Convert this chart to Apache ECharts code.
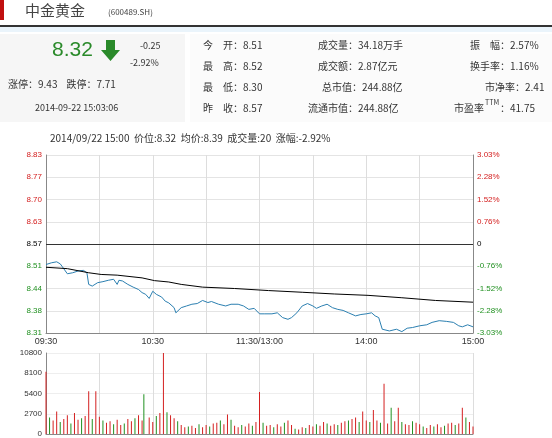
<!DOCTYPE html><html><head><meta charset="utf-8"><script src="https://cdn.jsdelivr.net/npm/echarts@6/dist/echarts.min.js"></script>
<style>body{margin:0}#c{width:552px;height:438px}</style></head><body><div id="c"></div><script>
var priceTicks=['8.31','8.38','8.44','8.51','8.57','8.63','8.70','8.77','8.83'];
var pctTicks=['-3.03%','-2.28%','-1.52%','-0.76%','0','0.76%','1.52%','2.28%','3.03%'];
var timeLabels={0:'09:30',60:'10:30',120:'11:30/13:00',180:'14:00',240:'15:00'};
var priceMin=[0,3,6,8,9,12,15,18,21,23,24,26,29,32,35,38,40,41,43,46,49,52,54,56,58,60,62,65,67,69,72,73,76,79,82,85,88,91,93,97,101,104,108,111,114,117,120,123,127,130,133,136,138,141,144,147,150,152,155,158,161,164,167,170,174,177,180,183,185,187,189,193,197,200,203,206,210,214,217,221,225,229,232,234,237,240];
var priceVal=[8.51,8.515,8.518,8.512,8.505,8.483,8.486,8.491,8.493,8.486,8.452,8.447,8.457,8.46,8.464,8.467,8.452,8.464,8.462,8.452,8.444,8.437,8.428,8.423,8.411,8.432,8.423,8.415,8.403,8.398,8.384,8.369,8.384,8.389,8.394,8.396,8.405,8.399,8.402,8.394,8.389,8.394,8.394,8.389,8.379,8.382,8.366,8.366,8.366,8.369,8.355,8.35,8.355,8.369,8.389,8.396,8.389,8.382,8.389,8.394,8.384,8.379,8.376,8.369,8.36,8.364,8.366,8.369,8.36,8.355,8.321,8.316,8.321,8.314,8.324,8.326,8.331,8.334,8.341,8.346,8.344,8.341,8.331,8.328,8.334,8.328];
var avgMin=[0,12,24,31,40,54,61,69,76,88,106,125,144,162,181,200,219,240];
var avgVal=[8.502,8.498,8.486,8.481,8.479,8.471,8.463,8.459,8.452,8.444,8.44,8.434,8.429,8.424,8.42,8.413,8.405,8.4];
var volMin=[0,2,4,6,8,10,12,14,16,18,20,22,24,26,28,30,32,34,36,38,40,42,44,46,48,50,52,54,55,58,60,62,64,66,68,70,72,74,76,78,80,82,84,86,88,90,92,94,96,98,100,102,104,106,108,110,112,114,116,118,120,122,124,126,128,130,132,134,136,138,140,142,144,146,148,150,152,154,156,158,160,162,164,166,168,170,172,174,176,178,180,182,184,186,188,190,192,194,196,198,200,202,204,206,208,210,212,214,216,218,220,222,224,226,228,230,232,234,236,238,240];
var volVal=[8300,2200,1800,3000,1600,2000,2500,1400,2800,1900,2100,2400,5700,2000,5700,2300,1800,1500,1700,1300,1900,1200,1400,2000,1700,2100,2500,1800,5300,2200,1600,2400,2800,10800,2900,2500,2100,1700,1200,900,1000,1100,800,1300,900,1200,1000,1400,1500,1800,1300,2600,1900,1100,900,1200,1000,1400,1100,1600,5600,1500,1100,1200,900,1300,1000,1500,1800,1200,700,600,900,800,1200,1000,1300,1100,1600,1400,1100,1300,1200,1500,1700,1800,2000,2200,1600,3000,1800,1600,3200,1800,1500,6700,1400,3500,1700,3500,1600,1300,1200,1700,1500,1300,1000,800,1200,1000,1300,900,1100,1400,1500,1200,1400,3500,2200,1600,1000];
var up='#d42020',dn='#209020';
var pd=priceMin.map(function(m,i){return[m,priceVal[i]]});
var ad=avgMin.map(function(m,i){return[m,avgVal[i]]});
var vd=volMin.map(function(m,i){return{value:[m,volVal[i]],itemStyle:{color:(i%3===1)?dn:up}}});
function lbl(v,arr){var i=Math.round((v-8.31)/0.065);return arr[i]||''}
function col(v){return v>8.575?up:(v<8.565?dn:'#000')}
var c=echarts.init(document.getElementById('c'));
var F='SimSun,"Noto Sans CJK SC",sans-serif';
var tx=function(x,y,t,s,st){return Object.assign({type:'text',left:x,top:y,style:Object.assign({text:t,fontSize:s||10,fill:'#333',fontFamily:F},st||{})})};
c.setOption({animation:false,backgroundColor:'#fff',
graphic:[
{type:'rect',shape:{x:0,y:0,width:4,height:20},style:{fill:'#c01010'}},
{type:'rect',shape:{x:0,y:25,width:552,height:2},style:{fill:'#333'}},
{type:'rect',shape:{x:0,y:27,width:552,height:5},style:{fill:'#eaf4fb'}},
{type:'rect',shape:{x:0,y:34,width:185,height:88},style:{fill:'#f6f6f6'}},
{type:'rect',shape:{x:190,y:34,width:362,height:88},style:{fill:'#fbfbfb'}},
tx(25,3,'中金黄金',15,{fill:'#444'}),
tx(108,8,'(600489.SH)',8,{fill:'#444'}),
tx(52,40,'8.32',21,{fill:'#2a8a2a',fontFamily:'Arial'}),
{type:'polygon',shape:{points:[[106,40],[115,40],[115,50],[120,50],[110.5,61],[101,50],[106,50]]},style:{fill:'#2a8a2a'}},
tx(140,41,'-0.25',9),tx(130,58,'-2.92%',9),
tx(8,79,'涨停：9.43    跌停：7.71',10),
tx(35,103,'2014-09-22 15:03:06',9),
tx(203,40,'今　开：8.51',10),tx(203,61,'最　高：8.52',10),tx(203,82,'最　低：8.30',10),tx(203,103,'昨　收：8.57',10),
tx(318,40,'成交量：34.18万手',10),tx(318,61,'成交额：2.87亿元',10),tx(322,82,'总市值：244.88亿',10),tx(308,103,'流通市值：244.88亿',10),
tx(470,40,'振　幅：2.57%',10),tx(470,61,'换手率：1.16%',10),tx(485,82,'市净率：2.41',10),
tx(454,103,'市盈率',10),tx(485,99,'TTM',7),tx(500,103,'：41.75',10),
tx(50,133,'2014/09/22 15:00  价位:8.32  均价:8.39  成交量:20  涨幅:-2.92%',10)
],
grid:[{left:46,right:79,top:155,height:178},{left:46,right:79,top:353,height:84}],
xAxis:[{type:'value',gridIndex:0,min:0,max:240,interval:30,axisLine:{lineStyle:{color:'#888'}},axisTick:{show:false},
axisLabel:{fontSize:9,color:'#333',margin:4,formatter:function(v){return timeLabels[v]||''}},splitLine:{show:true,lineStyle:{color:'#ddd'}}},
{type:'value',gridIndex:1,min:0,max:240,interval:30,axisLine:{lineStyle:{color:'#888'}},axisTick:{show:false},axisLabel:{show:false},splitLine:{show:true,lineStyle:{color:'#ddd'}}}],
yAxis:[{type:'value',gridIndex:0,min:8.31,max:8.83,interval:0.065,axisLine:{show:true,lineStyle:{color:'#888'}},axisTick:{show:false},
axisLabel:{fontSize:8,margin:4,formatter:function(v){return lbl(v,priceTicks)},color:function(v){return col(v)}},splitLine:{lineStyle:{color:'#e4e4e4'}}},
{type:'value',gridIndex:0,min:8.31,max:8.83,interval:0.065,position:'right',axisLine:{show:true,lineStyle:{color:'#888'}},axisTick:{show:false},
axisLabel:{fontSize:8,margin:4,formatter:function(v){return lbl(v,pctTicks)},color:function(v){return col(v)}},splitLine:{show:false}},
{type:'value',gridIndex:1,min:0,max:10800,interval:2700,axisLine:{show:true,lineStyle:{color:'#888'}},axisTick:{show:false},
axisLabel:{fontSize:8,margin:4,color:'#333',formatter:function(v){return String(v)}},splitLine:{lineStyle:{color:'#eee'}}}],
series:[
{type:'line',xAxisIndex:0,yAxisIndex:0,data:pd,symbol:'none',lineStyle:{color:'#2b7fb0',width:1},
markLine:{symbol:'none',silent:true,label:{show:false},lineStyle:{color:'#333',type:'solid',width:1},data:[{yAxis:8.57}]}},
{type:'line',xAxisIndex:0,yAxisIndex:0,data:ad,symbol:'none',lineStyle:{color:'#000',width:1}},
{type:'bar',xAxisIndex:1,yAxisIndex:2,data:vd,barWidth:1}
]});
</script></body></html>
